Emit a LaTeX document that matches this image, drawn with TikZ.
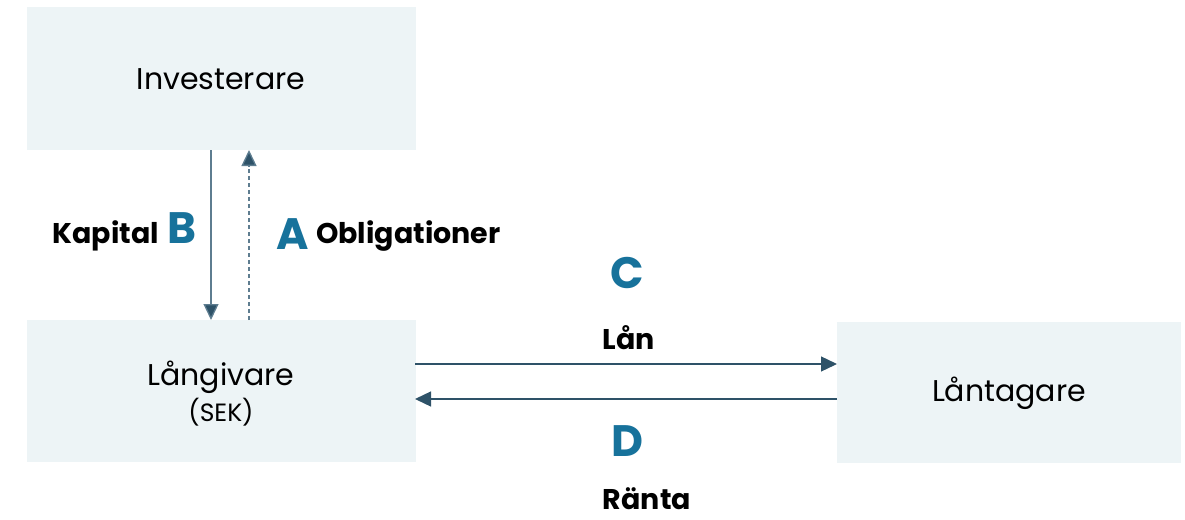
\documentclass[tikz,border=0pt]{standalone}
\usepackage{fontspec}
\setmainfont{Poppins}
\usetikzlibrary{arrows.meta}
\definecolor{boxfill}{HTML}{EDF4F6}
\definecolor{arrowdark}{HTML}{2E5268}
\definecolor{linegrey}{HTML}{5E7D90}
\definecolor{letterteal}{HTML}{17729B}
\tikzset{
  entity/.style={fill=boxfill, draw=none, inner sep=0pt},
  ename/.style={font=\fontsize{30}{34}\selectfont, inner sep=0pt},
  flow/.style={draw=linegrey, line width=1.3pt, -{Triangle[length=16pt,width=15pt,fill=arrowdark]}},
  flowdash/.style={flow, dash pattern=on 4pt off 3pt},
  letter/.style={text=letterteal, font=\fontsize{44}{48}\selectfont\bfseries, inner sep=0pt},
  lbl/.style={font=\fontsize{28.5}{32}\selectfont\bfseries, inner sep=0pt}
}
\begin{document}
\begin{tikzpicture}[x=1pt,y=-1pt]
\useasboundingbox (0,0) rectangle (1185,519);
\node[entity, minimum width=389pt, minimum height=143pt] (inv) at (221,78.5) {};
\node[ename] (invt) at (221,79) {Investerare};
\node[entity, minimum width=389pt, minimum height=142pt] (lang) at (221,391) {};
\node[ename] (langt) at (221,377) {Långivare};
\node[font=\fontsize{25}{28}\selectfont, inner sep=0pt] (sek) at (221,412) {(SEK)};
\node[entity, minimum width=344pt, minimum height=141pt] (lant) at (1009,392.5) {};
\node[ename] (lantt) at (1009,393) {Låntagare};

\coordinate (bT) at (211,150);
\coordinate (bB) at (211,320);
\coordinate (aB) at (249,320);
\coordinate (aT) at (249,150);
\draw[flow] (bT) -- (bB);
\draw[flowdash] (aB) -- (aT);

\coordinate (cL) at (415,364);
\coordinate (cR) at (837,364);
\coordinate (dR) at (837,399);
\coordinate (dL) at (415,399);
\draw[flow, draw=arrowdark] (cL) -- (cR);
\draw[flow, draw=arrowdark] (dR) -- (dL);

\node[lbl, anchor=east] (kap) at (159,236) {Kapital};
\node[letter] (B) at (182,228) {B};
\node[letter] (A) at (293,234) {A};
\node[lbl, anchor=west] (obl) at (316,236) {Obligationer};
\node[letter] (C) at (627,273) {C};
\node[lbl] (lan) at (629,338) {Lån};
\node[letter] (D) at (627,441) {D};
\node[lbl] (ranta) at (647,499) {Ränta};
\end{tikzpicture}
\end{document}
